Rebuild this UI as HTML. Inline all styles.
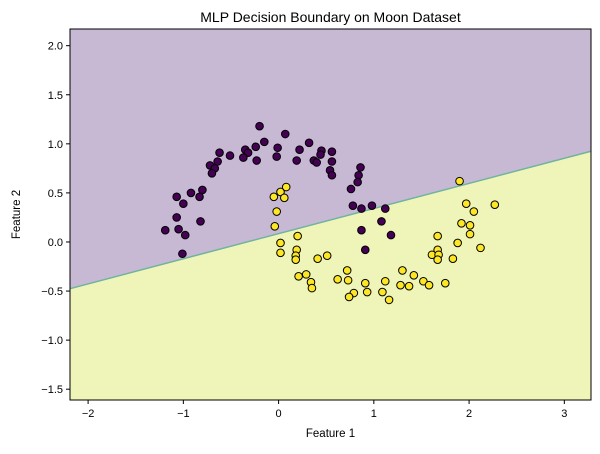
<!DOCTYPE html>
<html><head><meta charset="utf-8"><style>
body{margin:0;background:#fff;font-family:"Liberation Sans",sans-serif}
svg text{font-family:"Liberation Sans",sans-serif;fill:#000}
</style></head><body>
<svg id="c" width="600" height="449"></svg>
<script>
const xTicks=[-2,-1,0,1,2,3];
const yTicks=[-1.5,-1.0,-0.5,0.0,0.5,1.0,1.5,2.0];
const boundarySlope=0.256, boundaryIntercept=0.085;
const class0X=[-0.20,0.07,-0.15,-0.24,-0.35,-0.32,-0.37,-0.23,-0.01,-0.02,-0.62,-0.51,-0.64,-0.72,-0.67,-0.70,0.32,0.22,0.45,0.44,0.56,0.19,0.37,0.40,0.56,0.54,0.56,0.86,0.84,0.83,0.76,-0.80,-0.92,-0.83,-1.07,-1.00,-1.07,-0.82,-1.19,-1.05,-0.98,-1.01,0.78,0.87,0.98,1.12,1.08,0.87,1.18,0.91];
const class0Y=[1.18,1.10,1.02,0.97,0.94,0.91,0.86,0.83,0.96,0.87,0.91,0.88,0.82,0.78,0.75,0.70,1.01,0.94,0.93,0.89,0.92,0.83,0.83,0.81,0.82,0.73,0.68,0.76,0.68,0.61,0.54,0.53,0.50,0.46,0.46,0.39,0.25,0.21,0.12,0.13,0.07,-0.12,0.37,0.34,0.37,0.34,0.21,0.12,0.07,-0.08];
const class1X=[0.08,0.02,-0.05,0.06,-0.02,-0.04,1.90,1.97,2.27,2.05,1.92,2.01,2.01,1.67,1.88,2.12,1.67,1.61,1.68,1.67,1.83,0.02,0.02,0.20,0.19,0.18,0.18,0.51,0.41,0.72,0.21,0.29,0.34,0.35,0.62,0.73,0.91,0.93,0.79,0.74,1.12,1.09,1.16,1.30,1.42,1.28,1.37,1.52,1.58,1.75];
const class1Y=[0.56,0.51,0.46,0.45,0.31,0.16,0.62,0.39,0.38,0.31,0.19,0.17,0.08,0.06,-0.01,-0.06,-0.08,-0.13,-0.13,-0.18,-0.17,-0.01,-0.11,0.06,-0.08,-0.14,-0.18,-0.14,-0.17,-0.29,-0.35,-0.33,-0.41,-0.47,-0.38,-0.39,-0.42,-0.51,-0.52,-0.56,-0.40,-0.51,-0.59,-0.29,-0.34,-0.44,-0.45,-0.40,-0.44,-0.42];

const L=70,R=591,T=29,B=400,xmin=-2.19,xmax=3.28,ymin=-1.61,ymax=2.17;
const sx=v=>L+(v-xmin)/(xmax-xmin)*(R-L);
const sy=v=>B-(v-ymin)/(ymax-ymin)*(B-T);
const svg=document.getElementById('c');
const NS='http://www.w3.org/2000/svg';
function mk(t,a,p){const e=document.createElementNS(NS,t);for(const k in a)e.setAttribute(k,a[k]);(p||svg).appendChild(e);return e;}
const yl=boundarySlope*xmin+boundaryIntercept, yr=boundarySlope*xmax+boundaryIntercept;
let e=mk('polygon',{points:`${L},${T} ${R},${T} ${R},${sy(yr)} ${L},${sy(yl)}`,fill:'#c7b9d4'});


e=mk('polygon',{points:`${L},${sy(yl)} ${R},${sy(yr)} ${R},${B} ${L},${B}`,fill:'#eff5b8'});


e=mk('line',{x1:L,y1:sy(yl),x2:R,y2:sy(yr),stroke:'#6fb3a0','stroke-width':1.5});


class0X.forEach((x,i)=>{const c=mk('circle',{cx:sx(x),cy:sy(class0Y[i]),r:3.8,fill:'#440154',stroke:'#000','stroke-width':1});

});
class1X.forEach((x,i)=>{const c=mk('circle',{cx:sx(x),cy:sy(class1Y[i]),r:3.8,fill:'#fde725',stroke:'#000','stroke-width':1});

});
e=mk('rect',{x:L,y:T,width:R-L,height:B-T,fill:'none',stroke:'#000','stroke-width':1});


xTicks.forEach(v=>{const x=sx(v);mk('line',{x1:x,y1:B,x2:x,y2:B+4,stroke:'#000'});
const t=mk('text',{x:x,y:B+17,'text-anchor':'middle','font-size':11});t.textContent=String(v).replace('-','\u2212');

});
yTicks.forEach(v=>{const y=sy(v);mk('line',{x1:L-4,y1:y,x2:L,y2:y,stroke:'#000'});
const t=mk('text',{x:L-7,y:y+4,'text-anchor':'end','font-size':11});t.textContent=v.toFixed(1).replace('-','\u2212');

});
e=mk('text',{x:(L+R)/2,y:22,'text-anchor':'middle','font-size':14});e.textContent='MLP Decision Boundary on Moon Dataset';


e=mk('text',{x:(L+R)/2,y:437,'text-anchor':'middle','font-size':11.5});e.textContent='Feature 1';


e=mk('text',{x:20,y:(T+B)/2,'text-anchor':'middle','font-size':11.5,transform:`rotate(-90 20 ${(T+B)/2})`});e.textContent='Feature 2';


</script>
</body></html>
